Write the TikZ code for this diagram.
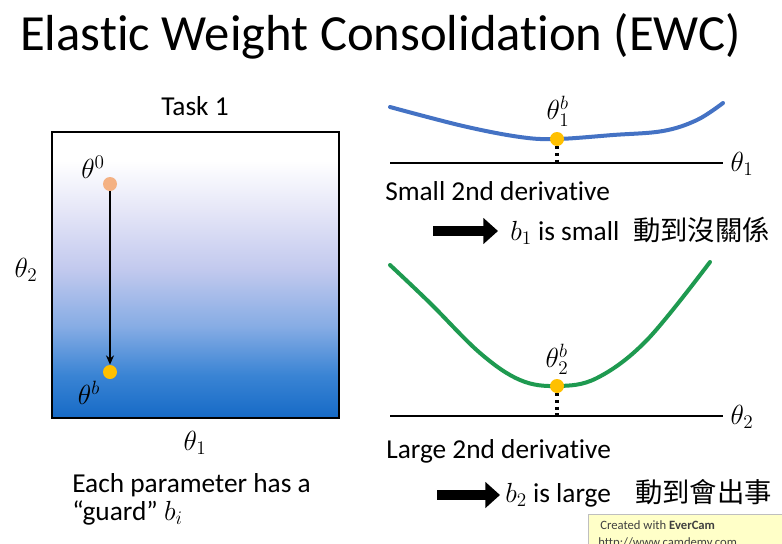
\documentclass[tikz,border=0pt]{standalone}
\usepackage{fontspec}
\setmainfont{Carlito}[Ligatures={TeX,NoCommon}]
\newfontfamily\cjk{Noto Sans CJK TC}
\usetikzlibrary{arrows.meta}
\definecolor{curveblue}{HTML}{4472C4}
\definecolor{curvegreen}{HTML}{1E9A50}
\definecolor{dotyellow}{HTML}{FFC000}
\definecolor{dotorange}{HTML}{F4B183}
\definecolor{boxb1}{HTML}{166AC6}
\definecolor{boxb2}{HTML}{3A84D4}
\definecolor{boxb3}{HTML}{86ACE4}
\definecolor{boxb4}{HTML}{C2C9EE}
\definecolor{boxb5}{HTML}{E4E5F7}
\definecolor{evbox}{HTML}{FFFFC8}
\pgfdeclareverticalshading{taskshade}{100bp}{color(0bp)=(boxb1); color(25bp)=(boxb1); color(32.5bp)=(boxb2); color(41bp)=(boxb3); color(51bp)=(boxb4); color(61bp)=(boxb5); color(70bp)=(white); color(100bp)=(white)}
\begin{document}
\begin{tikzpicture}[x=0.75pt,y=-0.75pt,
  body/.style={font=\fontsize{20.5}{24}\selectfont, inner sep=0},
  mathlbl/.style={font=\fontsize{20.5}{24}\selectfont, inner sep=0},
  dot/.style={circle, inner sep=0, minimum size=10.5pt},
  curve/.style={line width=3pt, line cap=round},
  axisline/.style={line width=1.5pt},
  dropline/.style={line width=2.4pt, dash pattern=on 2.4pt off 2.6pt},
  fatarrow/.style={line width=7.5pt, -{Triangle[length=11pt,width=19pt]}}]
\useasboundingbox (0,0) rectangle (782,543);
\fill[white] (0,0) rectangle (782,543);

% title
\node[anchor=base west, inner sep=0, font=\fontsize{38}{46}\selectfont] (title) at (20,50) {Elastic Weight Consolidation (EWC)};

% left panel
\node[body, anchor=base] (task) at (195,115) {Task 1};
\node[draw=black, line width=1.6pt, shading=taskshade, minimum width=215.25pt, minimum height=214.5pt, inner sep=0] (box) at (195.5,275) {};
\node[mathlbl] (th2) at (26,270) {$\theta_2$};
\node[mathlbl] (th0) at (93,167) {$\theta^0$};
\node[mathlbl] (thb) at (89,393) {$\theta^b$};
\node[mathlbl] (th1) at (195,443) {$\theta_1$};
\node[dot, fill=dotorange] (p0) at (110,184) {};
\node[dot, fill=dotyellow] (pb) at (110,372) {};
\draw[line width=1.2pt, -{Stealth[length=7pt,width=6pt]}] (p0) -- (pb);
\node[body, anchor=base west] (each) at (72,492) {Each parameter has a};
\node[body, anchor=base west] (guard) at (72,520) {“guard” $b_i$};

% right top: small 2nd derivative
\coordinate (a1l) at (390,163);
\coordinate (a1r) at (723,163);
\draw[axisline] (a1l) -- (a1r);
\node[mathlbl] (ax1) at (742,164) {$\theta_1$};
\draw[curve, curveblue] plot[smooth, tension=0.6] coordinates {(390,107) (463,126) (520,137) (557,139) (613,135) (663,131) (697,120) (723,103)};
\node[dot, fill=dotyellow] (d1) at (557,139) {};
\draw[dropline] (d1.south) -- (d1.south |- a1l);
\node[mathlbl] (t1b) at (558,111) {$\theta_1^b$};
\node[body, anchor=base west] (small) at (385,200) {Small 2nd derivative};
\coordinate (r1s) at (433,231);
\coordinate (r1e) at (498,231);
\draw[fatarrow] (r1s) -- (r1e);
\node[body, anchor=base west] (b1) at (510,240) {$b_1$ is small};
\node[body, anchor=base west, font=\cjk\fontsize{20.5}{24}\selectfont] (c1) at (633,240) {動到沒關係};

% right bottom: large 2nd derivative
\coordinate (a2l) at (390,416);
\coordinate (a2r) at (723,416);
\draw[axisline] (a2l) -- (a2r);
\node[mathlbl] (ax2) at (742,417) {$\theta_2$};
\draw[curve, curvegreen] plot[smooth, tension=0.6] coordinates {(390,265) (430,303) (480,353) (520,380) (557,386) (597,378) (647,340) (710,262)};
\node[dot, fill=dotyellow] (d2) at (557,386) {};
\draw[dropline] (d2.south) -- (d2.south |- a2l);
\node[mathlbl] (t2b) at (557,359) {$\theta_2^b$};
\node[body, anchor=base west] (large) at (386,458) {Large 2nd derivative};
\coordinate (r2s) at (437,495);
\coordinate (r2e) at (500,495);
\draw[fatarrow] (r2s) -- (r2e);
\node[body, anchor=base west] (b2) at (505,502) {$b_2$ is large};
\node[body, anchor=base west, font=\cjk\fontsize{20.5}{24}\selectfont] (c2) at (635,502) {動到會出事};

% EverCam overlay box
\begin{scope}
\clip (0,0) rectangle (782,543);
\node[draw=gray!50, fill=evbox, anchor=north west, minimum width=146pt, minimum height=30pt, inner sep=0] (ev) at (588,514) {};
\node[anchor=base west, inner sep=0, font=\fontsize{9.5}{11}\selectfont, text=black!75] (evt1) at (600,529) {Created with \textbf{EverCam}};
\node[anchor=base west, inner sep=0, font=\fontsize{9.5}{11}\selectfont, text=black!75] (evt2) at (598,546) {http://www.camdemy.com};
\end{scope}
\end{tikzpicture}
\end{document}
